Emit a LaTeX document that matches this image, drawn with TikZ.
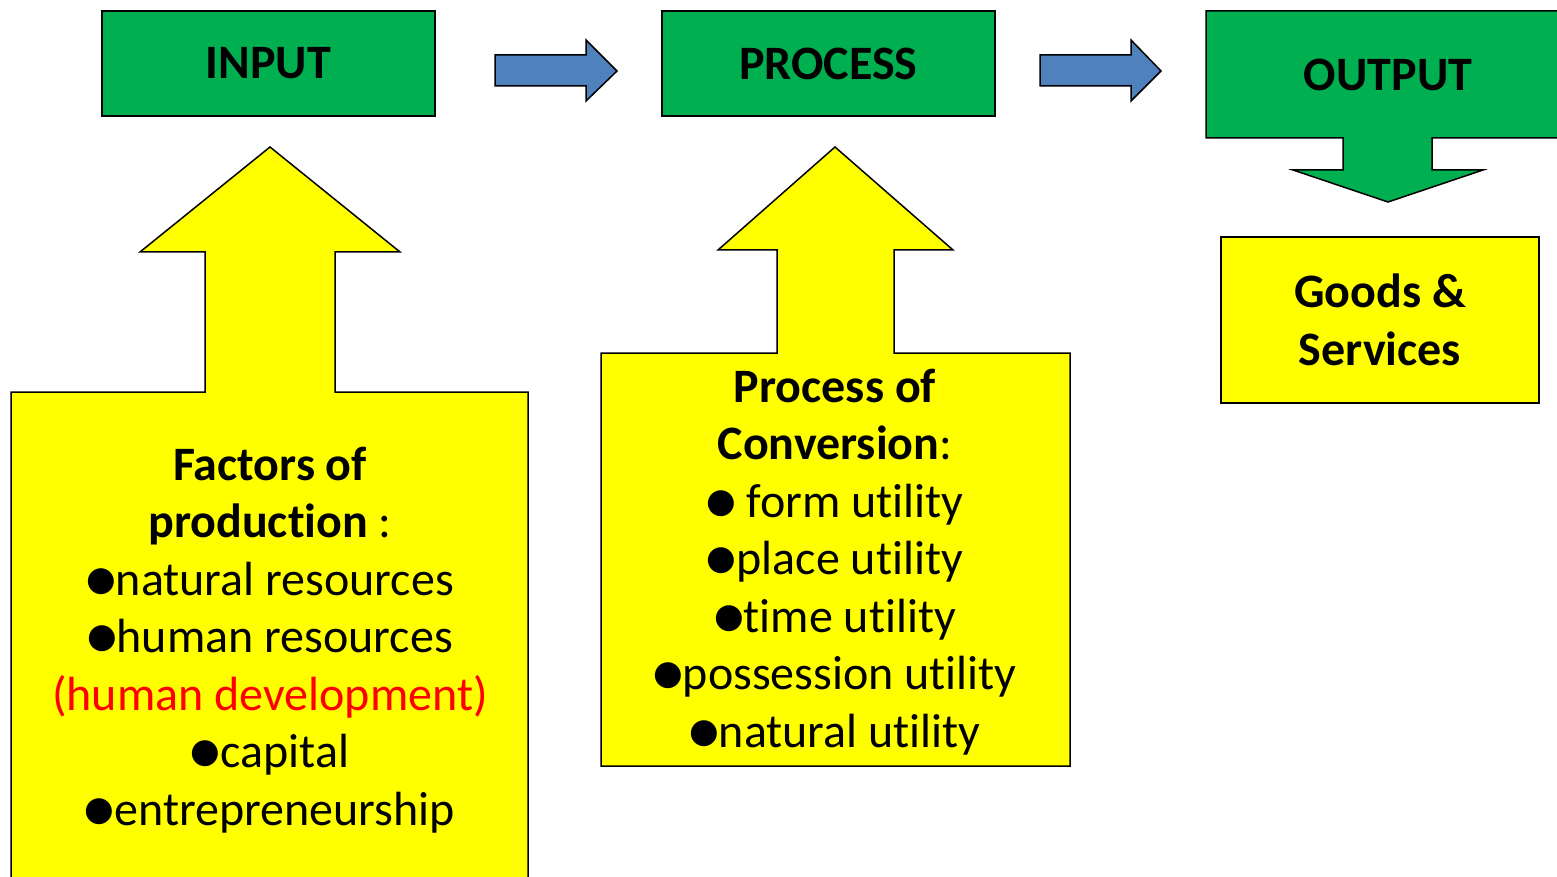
\documentclass[tikz,border=0pt]{standalone}
\usepackage{fontspec}
\setmainfont{Carlito}[RawFeature={-liga;-clig;-calt;-dlig}]
\newfontfamily\dotfont{DejaVu Sans}
\usetikzlibrary{positioning}

\definecolor{stagegreen}{HTML}{00B050}
\definecolor{noteyellow}{HTML}{FFFF00}
\definecolor{flowblue}{HTML}{4F81BD}
\definecolor{markred}{HTML}{FF0000}

\newcommand\bul{\raisebox{5pt}{\dotfont\fontsize{34}{34}\selectfont ●}}

\tikzset{
  stage/.style={draw=black,line width=1.5pt,fill=stagegreen,minimum width=333pt,
    minimum height=105pt,font=\fontsize{48}{52}\selectfont\bfseries},
  note/.style={draw=black,line width=1.5pt,fill=noteyellow},
  notetext/.style={align=center,font=\fontsize{48}{57.5}\selectfont},
  flow/.style={draw=black,line width=1.5pt,fill=flowblue}
}

\begin{document}
\begin{tikzpicture}[x=1pt,y=-1pt]
  \useasboundingbox (0,0) rectangle (1557,877);

  % stages
  \node [stage] (input) at (268.5,63.5) {INPUT};
  \node [stage] (process) at (828.5,63.5) {PROCESS};

  % output with down arrow
  \draw [note,fill=stagegreen] (1206,11) -- (1570,11) -- (1570,138) -- (1432,138) -- (1432,170)
    -- (1483,170) -- (1388,202) -- (1293,170) -- (1343,170) -- (1343,138) -- (1206,138) -- cycle;
  \node [font=\fontsize{48}{52}\selectfont\bfseries] (output) at (1388,75) {OUTPUT};

  % blue arrows between stages
  \draw [flow] (495,55) -- (586,55) -- (586,40) -- (617,71) -- (586,101) -- (586,86) -- (495,86) -- cycle;
  \draw [flow] (1040,55) -- (1131,55) -- (1131,40) -- (1161,71) -- (1131,101) -- (1131,86) -- (1040,86) -- cycle;

  % input callout
  \draw [note] (11,392) -- (205,392) -- (205,252) -- (140,252) -- (270,147) -- (400,252)
    -- (335,252) -- (335,392) -- (528,392) -- (528,895) -- (11,895) -- cycle;
  \node [notetext] (factors) at (270,640) {\textbf{Factors of}\\ \textbf{production} :\\
    \bul natural resources\\ \bul human resources\\ \textcolor{markred}{(human development)}\\
    \bul capital\\ \bul entrepreneurship};

  % process callout
  \draw [note] (601,353) -- (777,353) -- (777,250) -- (718,250) -- (835,147) -- (953,250)
    -- (894,250) -- (894,353) -- (1070,353) -- (1070,766) -- (601,766) -- cycle;
  \node [notetext] (conversion) at (835,562) {\textbf{Process of}\\ \textbf{Conversion}:\\
    \bul{} form utility\\ \bul place utility\\ \bul time utility\\
    \bul possession utility\\ \bul natural utility};

  % result
  \node [note,minimum width=318pt,minimum height=166pt,notetext,font=\fontsize{48}{57.5}\selectfont\bfseries]
    (goods) at (1380,320) {Goods \&\\ Services};
\end{tikzpicture}
\end{document}
